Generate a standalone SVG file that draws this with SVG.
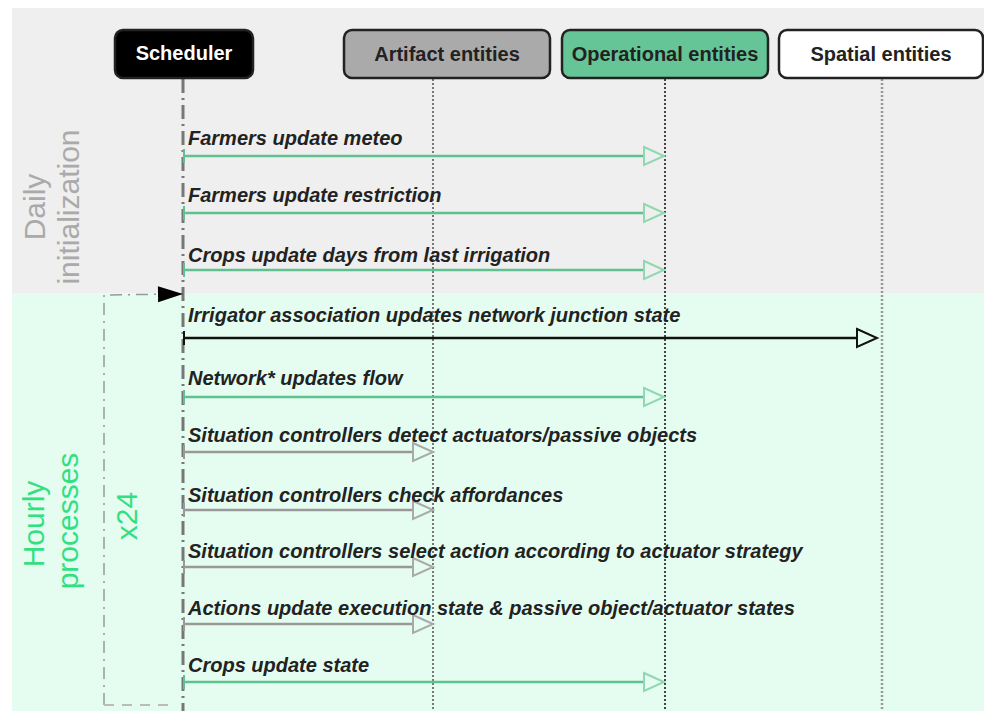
<svg xmlns="http://www.w3.org/2000/svg" width="984" height="711" viewBox="0 0 984 711">
<style>
.hdr{font-family:"Liberation Sans",Arial,sans-serif;font-size:20px;font-weight:bold;text-anchor:middle}
.msg{font-family:"Liberation Sans",Arial,sans-serif;font-size:20px;font-weight:bold;font-style:italic;fill:#222}
.vlab{font-family:"Liberation Sans",Arial,sans-serif;font-size:30px;text-anchor:middle}
.box{stroke:#222;stroke-width:2.5}
.life{fill:none}
.g{stroke:#5fc18f;stroke-width:2.5;fill:none}
.k{stroke:#111;stroke-width:2.5;fill:none}
.a{stroke:#999;stroke-width:2.5;fill:none}
</style>
<defs>
<marker id="hg" markerUnits="userSpaceOnUse" markerWidth="24" markerHeight="24" refX="1" refY="10" orient="auto" overflow="visible"><path d="M1,1 L21,10 L1,19 Z" fill="none" stroke="#8fd8b0" stroke-width="2"/></marker>
<marker id="ha" markerUnits="userSpaceOnUse" markerWidth="24" markerHeight="24" refX="1" refY="10" orient="auto" overflow="visible"><path d="M1,1 L21,10 L1,19 Z" fill="none" stroke="#aaaaaa" stroke-width="2"/></marker>
<marker id="hk" markerUnits="userSpaceOnUse" markerWidth="24" markerHeight="24" refX="1" refY="10" orient="auto" overflow="visible"><path d="M1,1 L21,10 L1,19 Z" fill="none" stroke="#111" stroke-width="2"/></marker>
<marker id="tg" markerUnits="userSpaceOnUse" markerWidth="4" markerHeight="14" refX="1" refY="7" orient="auto" overflow="visible"><path d="M1,0 L1,14" stroke="#5fc18f" stroke-width="2"/></marker>
<marker id="ta" markerUnits="userSpaceOnUse" markerWidth="4" markerHeight="14" refX="1" refY="7" orient="auto" overflow="visible"><path d="M1,0 L1,14" stroke="#999" stroke-width="2"/></marker>
<marker id="tk" markerUnits="userSpaceOnUse" markerWidth="4" markerHeight="14" refX="1" refY="7" orient="auto" overflow="visible"><path d="M1,0 L1,14" stroke="#111" stroke-width="2"/></marker>
<marker id="loopHead" markerUnits="userSpaceOnUse" markerWidth="26" markerHeight="18" refX="25" refY="8" orient="auto" overflow="visible"><path d="M0,0 L25,8 L0,16 Z" fill="#000"/></marker>
</defs>

<!-- backgrounds -->
<rect x="12" y="8" width="972" height="285" fill="#efefef"/>
<rect x="12" y="293" width="972" height="418" fill="#e5fdf1"/>

<!-- section labels -->
<g id="label-daily" fill="#aaaaaa">
<text class="vlab" transform="translate(45,207) rotate(-90)">Daily</text>
<text class="vlab" transform="translate(79,207) rotate(-90)">initialization</text>
</g>
<g id="label-hourly" fill="#33e07f">
<text class="vlab" transform="translate(44,524) rotate(-90)">Hourly</text>
<text class="vlab" transform="translate(78,521) rotate(-90)">processes</text>
<text class="vlab" transform="translate(137,516) rotate(-90)">x24</text>
</g>

<!-- lifelines -->
<g id="lifelines">
<line x1="183" y1="79" x2="183" y2="711" stroke="#777" stroke-width="3" stroke-dasharray="14 5 2 5"/>
<line x1="433" y1="79" x2="433" y2="711" stroke="#777" stroke-width="2" stroke-dasharray="2 2"/>
<line x1="665" y1="79" x2="665" y2="711" stroke="#444" stroke-width="2" stroke-dasharray="2 2"/>
<line x1="882" y1="79" x2="882" y2="711" stroke="#999" stroke-width="2.5" stroke-dasharray="2 2"/>
</g>

<!-- nodes -->
<g id="scheduler">
<rect class="box" x="115" y="30" width="138" height="48" rx="8" fill="#000"/>
<text class="hdr" x="184" y="60" fill="#fff">Scheduler</text>
</g>
<g id="artifact">
<rect class="box" x="344" y="30" width="206" height="48" rx="8" fill="#aaaaaa"/>
<text class="hdr" x="447" y="61" fill="#222">Artifact entities</text>
</g>
<g id="operational">
<rect class="box" x="562" y="30" width="206" height="48" rx="8" fill="#66c596"/>
<text class="hdr" x="665" y="61" fill="#222">Operational entities</text>
</g>
<g id="spatial">
<rect class="box" x="779" y="30" width="204" height="48" rx="8" fill="#fff"/>
<text class="hdr" x="881" y="61" fill="#222">Spatial entities</text>
</g>

<!-- connectors -->
<g id="connectors">
<path d="M104,705 L104,295 L183,294" fill="none" stroke="#999" stroke-width="1.5" stroke-dasharray="12 6 2 6" marker-end="url(#loopHead)"/>
<line x1="104" y1="705" x2="174" y2="705" stroke="#bbb" stroke-width="2" stroke-dasharray="10 8"/>

<line class="g" x1="184" y1="156" x2="644" y2="156" marker-start="url(#tg)" marker-end="url(#hg)"/>
<line class="g" x1="184" y1="213" x2="644" y2="213" marker-start="url(#tg)" marker-end="url(#hg)"/>
<line class="g" x1="184" y1="270" x2="644" y2="270" marker-start="url(#tg)" marker-end="url(#hg)"/>
<line class="k" x1="184" y1="338" x2="857" y2="338" marker-start="url(#tk)" marker-end="url(#hk)"/>
<line class="g" x1="184" y1="397" x2="644" y2="397" marker-start="url(#tg)" marker-end="url(#hg)"/>
<line class="a" x1="184" y1="452" x2="413" y2="452" marker-start="url(#ta)" marker-end="url(#ha)"/>
<line class="a" x1="184" y1="510" x2="413" y2="510" marker-start="url(#ta)" marker-end="url(#ha)"/>
<line class="a" x1="184" y1="567" x2="413" y2="567" marker-start="url(#ta)" marker-end="url(#ha)"/>
<line class="a" x1="184" y1="624" x2="413" y2="624" marker-start="url(#ta)" marker-end="url(#ha)"/>
<line class="g" x1="184" y1="682" x2="644" y2="682" marker-start="url(#tg)" marker-end="url(#hg)"/>

<text class="msg" x="188" y="145">Farmers update meteo</text>
<text class="msg" x="188" y="202">Farmers update restriction</text>
<text class="msg" x="188" y="262">Crops update days from last irrigation</text>
<text class="msg" x="188" y="322">Irrigator association updates network junction state</text>
<text class="msg" x="188" y="385">Network* updates flow</text>
<text class="msg" x="188" y="442">Situation controllers detect actuators/passive objects</text>
<text class="msg" x="188" y="502">Situation controllers check affordances</text>
<text class="msg" x="188" y="558">Situation controllers select action according to actuator strategy</text>
<text class="msg" x="188" y="615">Actions update execution state &amp; passive object/actuator states</text>
<text class="msg" x="188" y="672">Crops update state</text>
</g>
</svg>
